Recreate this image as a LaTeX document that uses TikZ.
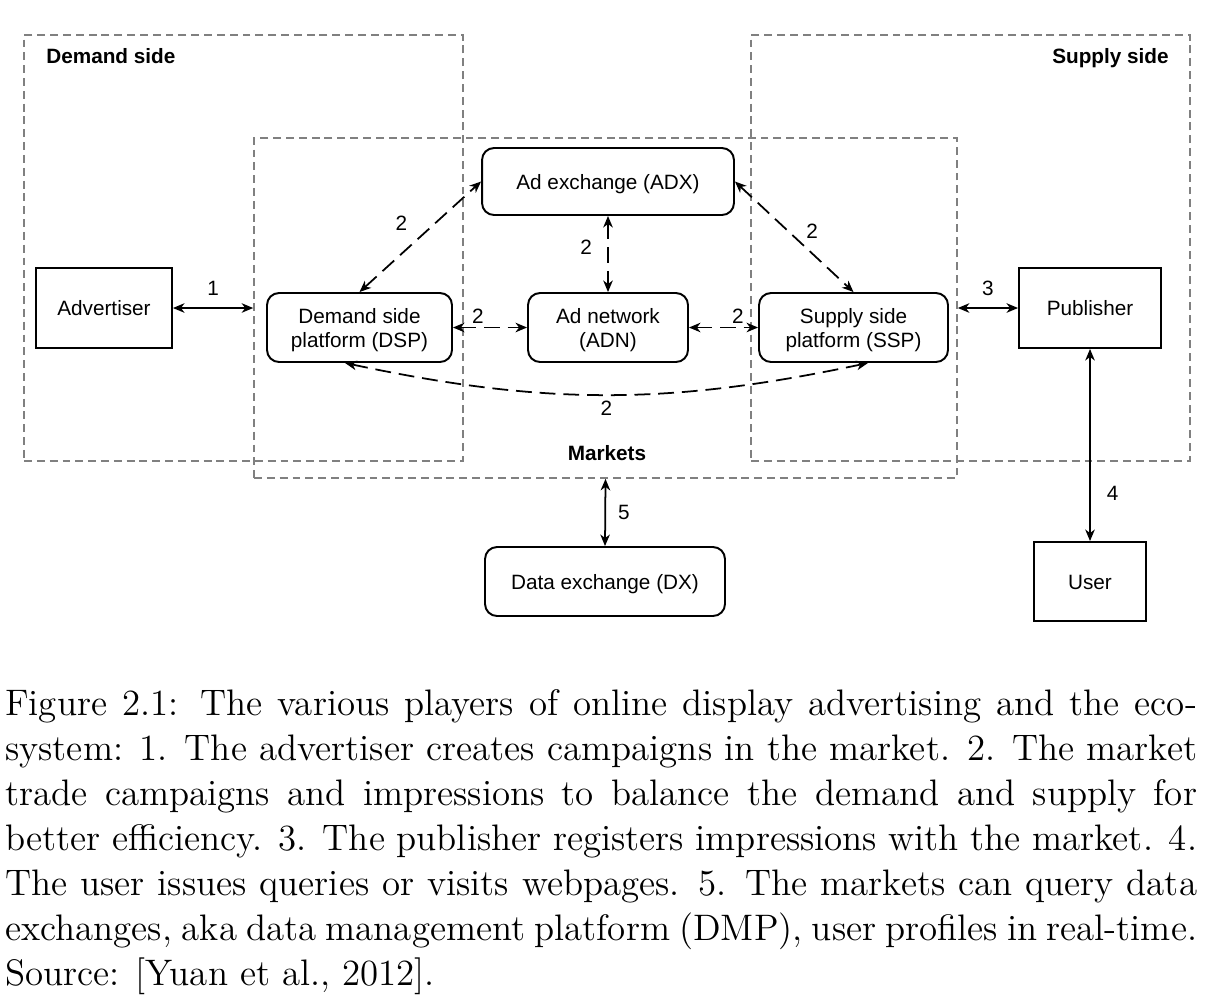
\documentclass[tikz,border=0pt]{standalone}
\usepackage{fontspec}
\setsansfont{Liberation Sans}
\newfontfamily\capfont{lmroman12-regular.otf}
\usetikzlibrary{arrows.meta}

\newcommand{\toprow}{\rule{0pt}{12pt}}

\begin{document}
\begin{tikzpicture}[x=0.02cm, y=-0.02cm]
        \tikzstyle{every node}=[font=\sffamily\fontsize{11.8}{13.6}\selectfont, inner sep=0pt]
        \tikzstyle{region}=[draw=black!50, line width=1pt, dash pattern=on 4.5pt off 2.8pt]
        \tikzstyle{heading}=[font=\sffamily\bfseries\fontsize{11.8}{13.6}\selectfont]
        \tikzstyle{party}=[draw, line width=1.1pt, align=center, text height=11.5pt, text depth=2.5pt]
        \tikzstyle{platform}=[draw, line width=1.1pt, align=center, rounded corners=2.4mm]
        \tikzstyle{link}=[line width=1pt, {Stealth[length=2.3mm, width=1.9mm, inset=0.7mm]}-{Stealth[length=2.3mm, width=1.9mm, inset=0.7mm]}]
        \tikzstyle{trade}=[link, dash pattern=on 9pt off 4.5pt]

        \useasboundingbox (0,0) rectangle (1212,1002);

        % the three dashed regions
        \node   (demand)   [region, minimum width=8.78cm, minimum height=8.52cm] at (243.5,248) {};
        \node   (supply)   [region, minimum width=8.78cm, minimum height=8.52cm] at (970.5,248) {};
        \node   (markets)  [region, minimum width=14.06cm, minimum height=6.8cm] at (605.5,308) {};
        \node   (demandlbl)  [heading, anchor=base west] at (46,63.5) {Demand side};
        \node   (supplylbl)  [heading, anchor=base east] at (1169,63.5) {Supply side};
        \node   (marketslbl) [heading, anchor=base] at (607,460.5) {Markets};

        % players
        \node   (adv)   [party, minimum width=2.72cm, minimum height=1.6cm] at (104,308) {Advertiser};
        \node   (pub)   [party, minimum width=2.84cm, minimum height=1.6cm] at (1090,308) {Publisher};
        \node   (user)  [party, minimum width=2.24cm, minimum height=1.58cm] at (1090,581.5) {User};
        \node   (adx)   [platform, text height=11.5pt, text depth=2.5pt, minimum width=5.04cm, minimum height=1.34cm] at (608,181.5) {Ad exchange (ADX)};
        \node   (dsp)   [platform, minimum width=3.7cm, minimum height=1.38cm] at (359.5,327.5) {\toprow Demand side\\platform (DSP)};
        \node   (adn)   [platform, minimum width=3.2cm, minimum height=1.38cm] at (608,327.5) {\toprow Ad network\\(ADN)};
        \node   (ssp)   [platform, minimum width=3.78cm, minimum height=1.38cm] at (853.5,327.5) {\toprow Supply side\\platform (SSP)};
        \node   (dx)    [platform, text height=11.5pt, text depth=2.5pt, minimum width=4.8cm, minimum height=1.38cm] at (605,581.5) {Data exchange (DX)};

        \draw[link] (adv.east) to node[above=2.3mm] {1} (markets.west);
        \draw[link] (markets.east) to node[above=2.2mm] {3} (pub.west);
        \draw[link] (pub.south) to node[pos=0.75, right=3.2mm] {4} (user.north);
        \draw[link] (markets.south) to node[right=2.4mm] {5} (dx.north);

        \draw[trade] (dsp.north) to node[xshift=-3.8mm, yshift=2.7mm] {2} (adx.west);
        \draw[trade] (adx.east) to node[xshift=3.6mm, yshift=1.2mm] {2} (ssp.north);
        \draw[trade] (adx.south) to node[xshift=-4.4mm, yshift=1.4mm] {2} (adn.north);
        \draw[trade] (dsp.east) to node[xshift=-2.4mm, yshift=2.3mm] {2} (adn.west);
        \draw[trade] (adn.east) to node[xshift=2.9mm, yshift=2.3mm] {2} (ssp.west);
        \draw[trade, bend right=12] ([xshift=-2.9mm]dsp.south) to node[yshift=-2.6mm] {2} ([xshift=2.9mm]ssp.south);

        \node   (caption) [anchor=north west, text width=23.84cm, align=justify, font=\capfont\fontsize{21}{25.6}\selectfont] at (5,689.5)
            {Figure 2.1: The various players of online display advertising and the eco-\linebreak
            system: 1. The advertiser creates campaigns in the market. 2. The market\linebreak
            trade campaigns and impressions to balance the demand and supply for\linebreak
            better efficiency. 3. The publisher registers impressions with the market. 4.\linebreak
            The user issues queries or visits webpages. 5. The markets can query data\linebreak
            exchanges, aka data management platform (DMP), user profiles in real-time.\linebreak
            Source: [Yuan et al., 2012].};
\end{tikzpicture}
\end{document}
